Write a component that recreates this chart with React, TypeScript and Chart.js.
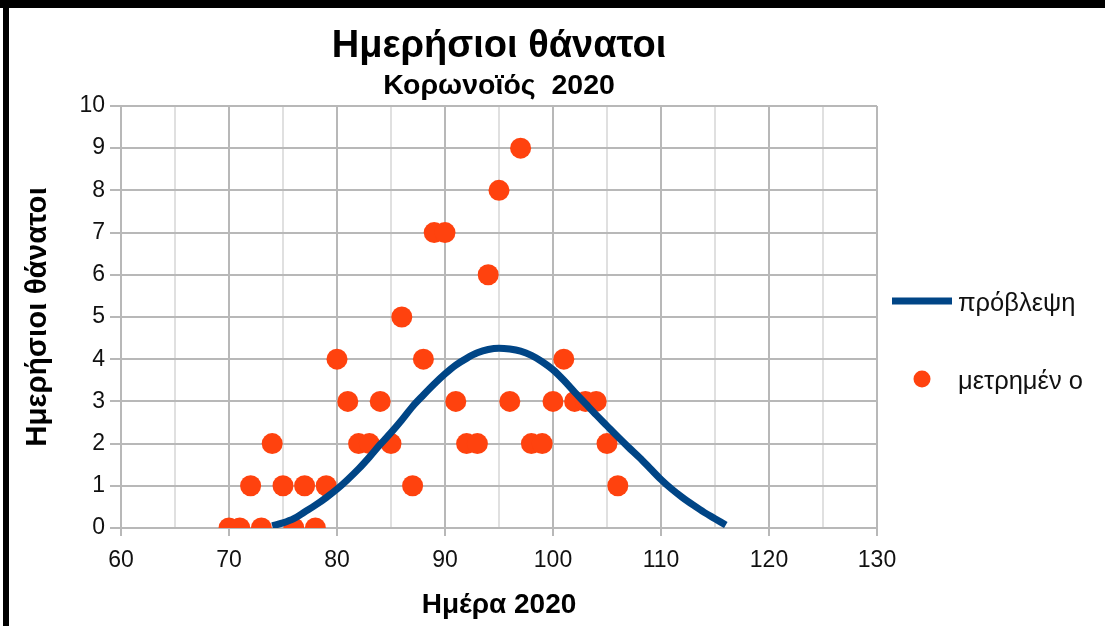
import React, { useEffect, useRef } from 'react';
import { Chart, registerables } from 'chart.js';

Chart.register(...registerables);

const chartTitle = 'Ημερήσιοι θάνατοι';
const chartSubtitle = 'Κορωνοϊός  2020';
const xAxisTitle = 'Ημέρα 2020';
const yAxisTitle = 'Ημερήσιοι θάνατοι';
const seriesNames = ['πρόβλεψη', 'μετρημέν ο'];

const measuredDays = [
  70, 71, 72, 73, 74, 75, 76, 77, 78, 79,
  80, 81, 82, 83, 84, 85, 86, 87, 88, 89,
  90, 91, 92, 93, 94, 95, 96, 97, 98, 99,
  100, 101, 102, 103, 104, 105, 106,
];
const measuredDeaths = [
  0, 0, 1, 0, 2, 1, 0, 1, 0, 1,
  4, 3, 2, 2, 3, 2, 5, 1, 4, 7,
  7, 3, 2, 2, 6, 8, 3, 9, 2, 2,
  3, 4, 3, 3, 3, 2, 1,
];

const predictionDays = [
  74, 75, 76, 77, 78, 79, 80, 81, 82, 83, 84, 85, 86, 87, 88, 89, 90, 91, 92, 93, 94,
  95, 96, 97, 98, 99, 100, 101, 102, 103, 104, 105, 106, 107, 108, 109, 110, 111, 112,
  113, 114, 115, 116,
];
const predictionDeaths = [
  0.05, 0.12, 0.22, 0.38, 0.54, 0.72, 0.92, 1.15, 1.4, 1.68, 1.98, 2.26, 2.56, 2.88,
  3.15, 3.41, 3.65, 3.86, 4.02, 4.15, 4.23, 4.26, 4.24, 4.19, 4.09, 3.94, 3.75, 3.5,
  3.22, 2.95, 2.68, 2.42, 2.16, 1.91, 1.67, 1.41, 1.15, 0.92, 0.72, 0.54, 0.37, 0.22,
  0.07,
];

const xTicksMin = 60;
const xTicksMax = 130;
const yTicksMin = 0;
const yTicksMax = 10;

const FONT = '"Liberation Sans", Arial, sans-serif';
const LINE_COLOR = '#004586';
const DOT_COLOR = '#ff420e';

const sideLegend = {
  id: 'sideLegend',
  afterDraw(chart: any) {
    const { ctx, chartArea } = chart;
    const x0 = chartArea.right + 15;
    const midY = (chartArea.top + chartArea.bottom) / 2;
    const y0 = midY - 16;
    const y1 = midY + 62;
    ctx.save();
    ctx.strokeStyle = LINE_COLOR;
    ctx.lineWidth = 7;
    ctx.beginPath();
    ctx.moveTo(x0, y0);
    ctx.lineTo(x0 + 60, y0);
    ctx.stroke();
    ctx.fillStyle = DOT_COLOR;
    ctx.beginPath();
    ctx.arc(x0 + 30, y1, 8.5, 0, Math.PI * 2);
    ctx.fill();
    ctx.fillStyle = '#111';
    ctx.font = `25.5px ${FONT}`;
    ctx.textBaseline = 'middle';
    ctx.textAlign = 'left';
    ctx.fillText(seriesNames[0], x0 + 66, y0 + 3);
    ctx.fillText(seriesNames[1], x0 + 66, y1 + 3);
    ctx.restore();
  },
};

export default function App() {
  const canvasRef = useRef<HTMLCanvasElement | null>(null);

  useEffect(() => {
    if (!canvasRef.current) return;
    Chart.defaults.font.family = FONT;
    const chart = new Chart(canvasRef.current, {
      type: 'scatter',
      data: {
        datasets: [
          {
            label: seriesNames[0],
            data: predictionDays.map((d, i) => ({ x: d, y: predictionDeaths[i] })),
            showLine: true,
            borderColor: LINE_COLOR,
            backgroundColor: LINE_COLOR,
            borderWidth: 7,
            pointRadius: 0,
            pointHoverRadius: 0,
            cubicInterpolationMode: 'monotone',
          },
          {
            label: seriesNames[1],
            data: measuredDays.map((d, i) => ({ x: d, y: measuredDeaths[i] })),
            showLine: false,
            backgroundColor: DOT_COLOR,
            borderColor: DOT_COLOR,
            borderWidth: 0,
            pointRadius: 10.5,
            pointHoverRadius: 10.5,
          },
        ],
      },
      options: {
        animation: false,
        responsive: false,
        layout: { padding: { left: 0, right: 228, top: 0, bottom: 0 } },
        plugins: {
          legend: { display: false },
          tooltip: { enabled: false },
          title: {
            display: true,
            text: chartTitle,
            color: '#000',
            font: { size: 38, weight: 'bold', family: FONT, lineHeight: 1.2 },
            padding: { top: 24, bottom: 0 },
            fullSize: false,
          },
          subtitle: {
            display: true,
            text: chartSubtitle,
            color: '#000',
            font: { size: 28.5, weight: 'bold', family: FONT, lineHeight: 1.1 },
            padding: { top: 1, bottom: 4 },
            fullSize: false,
          },
        },
        scales: {
          x: {
            type: 'linear',
            min: xTicksMin,
            max: xTicksMax,
            afterFit: (scale: any) => {
              scale.height = 98;
            },
            ticks: {
              stepSize: 5,
              autoSkip: false,
              maxRotation: 0,
              color: '#111',
              padding: 11,
              font: { size: 23, family: FONT },
              callback: (v: any) => (Number(v) % 10 === 0 ? String(v) : ''),
            },
            grid: {
              color: (c: any) => (c.tick && c.tick.value % 10 === 0 ? '#b8b8b8' : '#e0e0e0'),
              tickColor: (c: any) => (c.tick && c.tick.value % 10 === 0 ? '#b8b8b8' : 'rgba(0,0,0,0)'),
              lineWidth: 2,
              tickLength: 8,
            },
            border: { color: '#b8b8b8', width: 2 },
            title: {
              display: true,
              text: xAxisTitle,
              color: '#000',
              font: { size: 28, weight: 'bold', family: FONT, lineHeight: 1.2 },
              padding: { top: 0, bottom: 4 },
            },
          },
          y: {
            type: 'linear',
            min: yTicksMin,
            max: yTicksMax,
            afterFit: (scale: any) => {
              scale.width = 121;
            },
            ticks: {
              stepSize: 1,
              color: '#111',
              padding: 5,
              font: { size: 23, family: FONT },
            },
            grid: {
              color: '#b8b8b8',
              lineWidth: 2,
              tickLength: 11,
            },
            border: { color: '#b8b8b8', width: 2 },
            title: {
              display: true,
              text: yAxisTitle,
              color: '#000',
              font: { size: 29.5, weight: 'bold', family: FONT, lineHeight: 1.2 },
              padding: { top: 20, bottom: 0 },
            },
          },
        },
      },
      plugins: [sideLegend],
    } as any);
    return () => chart.destroy();
  }, []);

  return (
    <div style={{ position: 'absolute', left: 0, top: 0, width: 1105, height: 626, background: '#fff', overflow: 'hidden' }}>
      <canvas ref={canvasRef} width={1105} height={626} style={{ position: 'absolute', left: 0, top: 0, width: 1105, height: 626 }} />
      <div style={{ position: 'absolute', left: 0, top: 0, width: 1105, height: 8, background: '#000' }} />
      <div style={{ position: 'absolute', left: 3, top: 0, width: 6, height: 626, background: '#000' }} />
    </div>
  );
}
